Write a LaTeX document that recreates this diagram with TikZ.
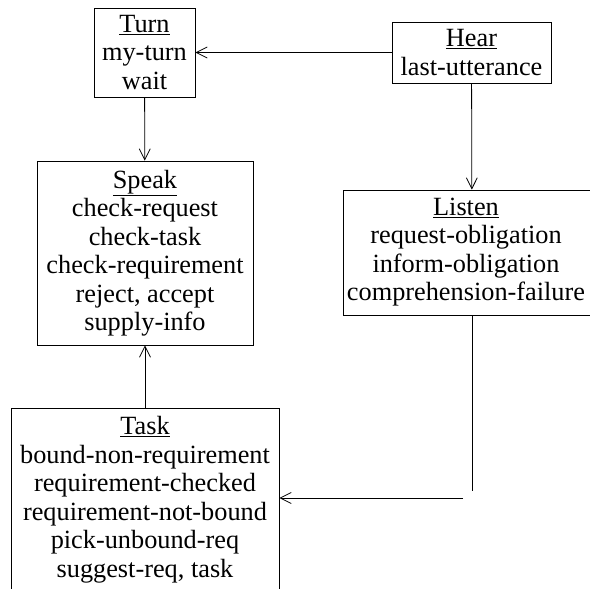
\documentclass[tikz,border=0pt]{standalone}
\usepackage{fontspec}
\setmainfont{LiberationSerif}[Extension=.ttf,UprightFont=*-Regular,BoldFont=*-Bold,ItalicFont=*-Italic]
\usetikzlibrary{arrows.meta}
\begin{document}
\begin{tikzpicture}[x=1bp,y=-1bp,
  txt/.style={inner sep=0pt,align=center,font=\rmfamily\fontsize{26.3bp}{28.5bp}\selectfont},
  boxed/.style={txt,draw,line width=0.8bp},
  arr/.style={line width=0.8bp,-{Straight Barb[length=11bp,width=11bp,line width=0.8bp]}},
  ln/.style={line width=0.8bp}]
\useasboundingbox (0,0) rectangle (590,589);
\clip (0,0) rectangle (590,589);
\node[boxed,minimum width=101bp,minimum height=89bp] (turn) at (144.5,52.5)
  {\underline{Turn}\\my-turn\\wait};
\node[boxed,minimum width=159bp,minimum height=61bp] (hear) at (471.5,52.5)
  {\underline{Hear}\\last-utterance};
\node[boxed,minimum width=216bp,minimum height=184bp] (speak) at (145,253)
  {\underline{Speak}\\check-request\\check-task\\check-requirement\\reject, accept\\supply-info};
\node[boxed,minimum width=258bp,minimum height=125bp] (listen) at (472,252.5) {};
\node[txt] (listentext) at (466,252) {\underline{Listen}\\request-obligation\\inform-obligation\\comprehension-failure};
\node[boxed,minimum width=268bp,minimum height=190bp] (task) at (145,503) {};
\node[txt] (tasktext) at (145,499.5) {\underline{Task}\\bound-non-requirement\\requirement-checked\\requirement-not-bound\\pick-unbound-req\\suggest-req, task};
\coordinate (lend) at (472,491);
\coordinate (hstart) at (463,498);
\draw[arr] (hear) -- (turn);
\draw[arr] (turn) -- (speak);
\draw[arr] (hear) -- (listen);
\draw[arr] (task) -- (speak);
\draw[ln] (listen.south) -- (lend);
\draw[arr] (hstart) -- (hstart -| task.east);
\end{tikzpicture}
\end{document}
